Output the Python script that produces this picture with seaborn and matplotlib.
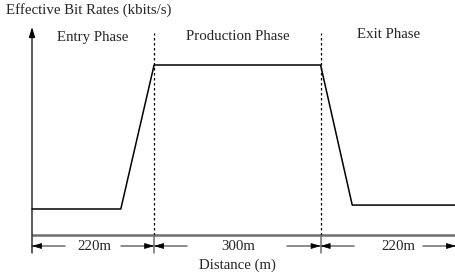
import matplotlib
matplotlib.use("Agg")

import pandas as pd
import matplotlib.pyplot as plt
import seaborn as sns

# -----------------------------
# Data
# -----------------------------

distance_m = [0, 160, 220, 520, 577, 764]
bit_rate = [0.153, 0.153, 1.0, 1.0, 0.176, 0.176]

phase_names = ["Entry Phase", "Production Phase", "Exit Phase"]
phase_edges = [0, 220, 520, 764]
phase_lengths = ["220m", "300m", "220m"]

# -----------------------------
# Layout (pixel mapping)
# -----------------------------

PX_PER_M = 0.555
PX_PER_UNIT = 170.0
ORIGIN_X = 32
ORIGIN_Y = 235
W, H = 456, 276


def ux(px):
    return (px - ORIGIN_X) / PX_PER_M


def uy(py):
    return (ORIGIN_Y - py) / PX_PER_UNIT


sns.set_style("white")
plt.rcParams["font.family"] = ["Liberation Serif", "DejaVu Serif"]
FS = 10.7

fig = plt.figure(figsize=(W / 100, H / 100), dpi=100)
ax = fig.add_axes([0, 0, 1, 1])
ax.set_xlim(ux(0), ux(W))
ax.set_ylim(uy(H), uy(0))
ax.axis("off")

# -----------------------------
# Profile line
# -----------------------------

df = pd.DataFrame({"Distance": distance_m, "Rate": bit_rate})

sns.lineplot(
    data=df,
    x="Distance",
    y="Rate",
    color="black",
    linewidth=1.1,
    sort=False,
    ax=ax
)

# axes
ax.plot([0, phase_edges[-1]], [0, 0], color="#6e6e6e", lw=1.8,
        solid_capstyle="butt")
ax.annotate(
    "",
    xy=(0, uy(27)),
    xytext=(0, uy(253)),
    arrowprops=dict(arrowstyle="-|>,head_length=0.6,head_width=0.18",
                    color="black", lw=0.9, shrinkA=0, shrinkB=0)
)

# phase boundaries
for edge in phase_edges[1:-1]:
    ax.plot([edge, edge], [0, uy(33)], color="black", lw=0.9,
            linestyle=(0, (2, 2)))
    ax.plot([edge, edge], [0, uy(253)], color="#6e6e6e", lw=1.1)

# -----------------------------
# Dimension arrows
# -----------------------------

arrow_y = uy(246)
arrow_len = 60

for i in range(3):
    left = phase_edges[i]
    right = phase_edges[i + 1]
    mid = (left + right) / 2

    ax.text(mid + (18 if i == 2 else 2), arrow_y, phase_lengths[i],
            ha="center", va="center", fontsize=FS)

    for end, inner in [(left, left + arrow_len),
                       (right, right - arrow_len)]:
        ax.plot([inner, end], [arrow_y, arrow_y], color="#6e6e6e", lw=1.1)
        ax.annotate(
            "",
            xy=(end, arrow_y),
            xytext=(end + (inner - end) * 0.2, arrow_y),
            arrowprops=dict(arrowstyle="-|>,head_length=0.6,head_width=0.18",
                            color="black", lw=0.5, shrinkA=0, shrinkB=0)
        )

    ax.text(mid, uy(37) if i < 2 else uy(35), phase_names[i],
            ha="center", va="center", fontsize=FS)

# -----------------------------
# Labels
# -----------------------------

ax.text(ux(6), uy(10), "Effective Bit Rates (kbits/s)",
        ha="left", va="center", fontsize=FS)

ax.text((phase_edges[1] + phase_edges[2]) / 2, uy(265), "Distance (m)",
        ha="center", va="center", fontsize=FS)

plt.savefig("out.png", dpi=100)
plt.close()
